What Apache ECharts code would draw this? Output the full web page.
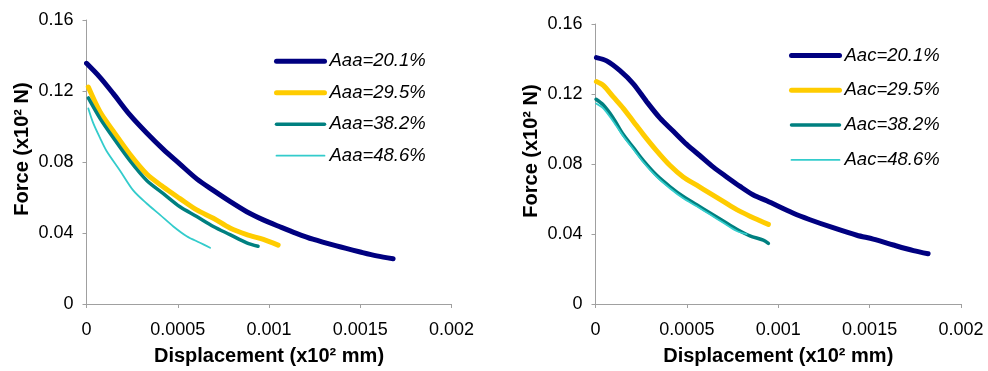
<!DOCTYPE html>
<html>
<head>
<meta charset="utf-8">
<script src="https://cdn.jsdelivr.net/npm/echarts@6/dist/echarts.min.js"></script>
<style>
html,body{margin:0;padding:0;background:#fff;}
#chart{width:988px;height:371px;}
</style>
</head>
<body>
<div id="chart"></div>
<script>
// ---- data (displacement x10^2 mm, force x10^2 N) ----
const leftNames = ['Aaa=20.1%', 'Aaa=29.5%', 'Aaa=38.2%', 'Aaa=48.6%'];
const rightNames = ['Aac=20.1%', 'Aac=29.5%', 'Aac=38.2%', 'Aac=48.6%'];

const aaa201 = [[0,0.1356],[0.000074,0.1277],[0.000147,0.1185],[0.000238,0.1065],[0.00033,0.0963],[0.000421,0.0871],[0.000512,0.0788],[0.000604,0.0705],[0.000695,0.064],[0.000786,0.0578],[0.000878,0.052],[0.000969,0.0474],[0.00106,0.0435],[0.00115,0.0398],[0.00124,0.0365],[0.00137,0.0327],[0.0015,0.0293],[0.00159,0.0271],[0.00168,0.0255]];
const aaa295 = [[0.00001,0.1222],[0.000074,0.1083],[0.000147,0.0973],[0.000238,0.0843],[0.00033,0.0732],[0.000421,0.0659],[0.000512,0.0594],[0.000604,0.053],[0.000695,0.0483],[0.000786,0.0428],[0.000878,0.0391],[0.000969,0.0364],[0.00105,0.0332]];
const aaa382 = [[0.00001,0.1161],[0.000074,0.1046],[0.000147,0.0936],[0.000238,0.0807],[0.00033,0.0696],[0.000421,0.0622],[0.000512,0.0548],[0.000604,0.0493],[0.000695,0.0437],[0.000786,0.0391],[0.000878,0.0345],[0.00094,0.0325]];
const aaa486 = [[0.00001,0.1102],[0.000037,0.1019],[0.000074,0.0936],[0.00011,0.0862],[0.000184,0.0751],[0.000256,0.064],[0.00033,0.0566],[0.000403,0.0502],[0.000476,0.0437],[0.000549,0.0382],[0.000622,0.0345],[0.000677,0.0317]];

const aac201 = [[0.000005,0.1408],[0.0000613,0.1389],[0.000134,0.1333],[0.000207,0.1258],[0.00028,0.1156],[0.000353,0.1062],[0.000426,0.0987],[0.000499,0.0912],[0.000572,0.0847],[0.000645,0.0782],[0.000718,0.0726],[0.000791,0.0672],[0.000864,0.0623],[0.000937,0.059],[0.00108,0.052],[0.00117,0.0483],[0.0013,0.0436],[0.00143,0.0393],[0.00152,0.0371],[0.00163,0.0337],[0.00174,0.0305],[0.00182,0.0287]];
const aac295 = [[0.000005,0.1271],[0.0000427,0.1249],[0.0000974,0.1183],[0.000152,0.1118],[0.000207,0.1043],[0.000262,0.0968],[0.000335,0.0875],[0.000408,0.0791],[0.00048,0.0726],[0.000554,0.0679],[0.000627,0.0632],[0.000699,0.0586],[0.000773,0.0539],[0.000845,0.0502],[0.000946,0.0455]];
const aac382 = [[0.000003,0.117],[0.0000427,0.1137],[0.0000974,0.1062],[0.000152,0.0968],[0.000207,0.0894],[0.000262,0.0819],[0.000335,0.0735],[0.000408,0.067],[0.00048,0.0614],[0.000554,0.0567],[0.000627,0.052],[0.000699,0.0474],[0.000773,0.0427],[0.000845,0.0389],[0.000918,0.0365],[0.000946,0.0346]];
const aac486 = [[0.000003,0.1146],[0.0000427,0.1118],[0.0000974,0.1043],[0.000152,0.0959],[0.000207,0.0884],[0.000262,0.081],[0.000335,0.0726],[0.000408,0.066],[0.00048,0.0604],[0.000554,0.0558],[0.000627,0.0511],[0.000699,0.0464],[0.000773,0.0417],[0.000827,0.0399]];

const xTicks = ['0', '0.0005', '0.001', '0.0015', '0.002'];
const yTicks = ['0', '0.04', '0.08', '0.12', '0.16'];

// ---- styles ----
const FONT = 'Arial, "Liberation Sans", sans-serif';
const colors = ['#000080', '#FFCC00', '#008080', '#33CCCC'];
const widths = [5, 5, 3.5, 1.8];
const axisGray = '#A0A0A0';

function fmt(ticks, step) {
  return function (v) {
    const i = Math.round(v / step);
    return ticks[i] !== undefined ? ticks[i] : String(v);
  };
}

function xAxis(gi) {
  return {
    type: 'value', gridIndex: gi, min: 0, max: 0.002, interval: 0.0005,
    name: 'Displacement (x10\u00B2 mm)', nameLocation: 'middle', nameGap: 42,
    nameTextStyle: { fontFamily: FONT, fontSize: 20, fontWeight: 'bold', color: '#000' },
    axisLine: { show: true, lineStyle: { color: axisGray, width: 1 } },
    axisTick: { show: true, length: 4, lineStyle: { color: axisGray } },
    axisLabel: { fontFamily: FONT, fontSize: 18, color: '#000', margin: 17, formatter: fmt(xTicks, 0.0005) },
    splitLine: { show: false }
  };
}
function yAxis(gi) {
  return {
    type: 'value', gridIndex: gi, min: 0, max: 0.16, interval: 0.04,
    name: 'Force (x10\u00B2 N)', nameLocation: 'middle', nameGap: 54,
    nameTextStyle: { fontFamily: FONT, fontSize: 20, fontWeight: 'bold', color: '#000', padding: [0, 0, 0, 26] },
    axisLine: { show: true, lineStyle: { color: axisGray, width: 1 } },
    axisTick: { show: true, length: 4, lineStyle: { color: axisGray } },
    axisLabel: { fontFamily: FONT, fontSize: 18, color: '#000', margin: 13, formatter: fmt(yTicks, 0.04) },
    splitLine: { show: false }
  };
}
function line(name, data, k, gi) {
  return {
    type: 'line', name: name, data: data, xAxisIndex: gi, yAxisIndex: gi,
    symbol: 'none', smooth: 0.3, clip: false,
    lineStyle: { color: colors[k], width: widths[k], cap: 'round', join: 'round' },
    itemStyle: { color: colors[k] }
  };
}
function legend(names, left, top, gap) {
  return {
    data: names.map(function (n, k) {
      return { name: n, lineStyle: { width: widths[k], cap: 'round', color: colors[k] } };
    }),
    orient: 'vertical', left: left, top: top, padding: 0,
    itemWidth: 48, itemHeight: 18, itemGap: gap,
    itemStyle: { opacity: 0 },
    textStyle: { fontFamily: FONT, fontSize: 18.5, fontStyle: 'italic', color: '#000' },
    selectedMode: false
  };
}

const chart = echarts.init(document.getElementById('chart'), null, { renderer: 'canvas' });
chart.setOption({
  backgroundColor: '#fff',
  animation: false,
  grid: [
    { left: 86.5, top: 20, width: 365, height: 289 },
    { left: 595.5, top: 24, width: 365.5, height: 285.5 }
  ],
  xAxis: [xAxis(0), xAxis(1)],
  yAxis: [yAxis(0), yAxis(1)],
  legend: [legend(leftNames, 274, 51.7, 12.5), legend(rightNames, 789, 46, 15.8)],
  series: [
    line(leftNames[0], aaa201, 0, 0),
    line(leftNames[1], aaa295, 1, 0),
    line(leftNames[2], aaa382, 2, 0),
    line(leftNames[3], aaa486, 3, 0),
    line(rightNames[0], aac201, 0, 1),
    line(rightNames[1], aac295, 1, 1),
    line(rightNames[2], aac382, 2, 1),
    line(rightNames[3], aac486, 3, 1)
  ]
});
</script>
</body>
</html>
